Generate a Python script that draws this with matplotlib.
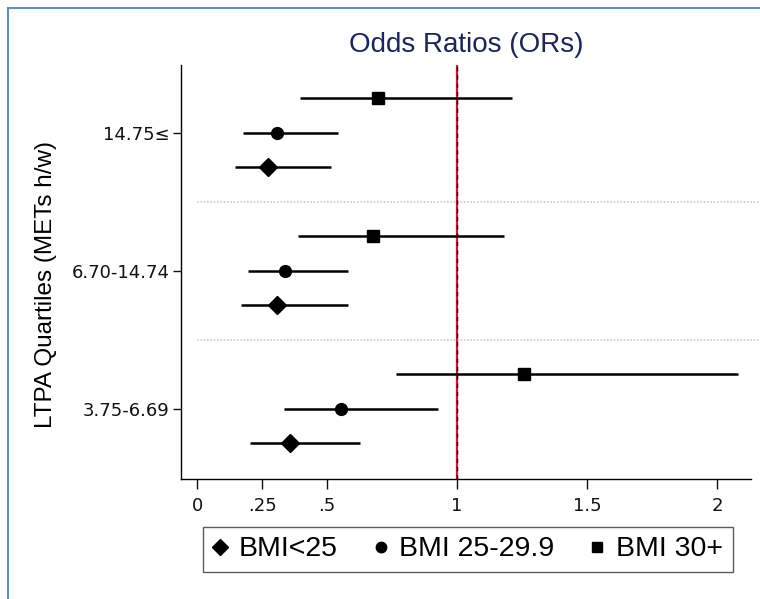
import matplotlib
matplotlib.use("Agg")
import matplotlib.pyplot as plt
from matplotlib.patches import Rectangle
from matplotlib.lines import Line2D

plt.rcParams['font.family'] = ['Liberation Sans', 'DejaVu Sans']

quartiles = ["3.75-6.69", "6.70-14.74", "14.75\u2264"]
series = ["BMI<25", "BMI 25-29.9", "BMI 30+"]
markers = ["D", "o", "s"]
# odds ratios per series, ordered as quartiles
or_vals = {
    "BMI<25":      [0.358, 0.309, 0.273],
    "BMI 25-29.9": [0.554, 0.337, 0.308],
    "BMI 30+":     [1.258, 0.675, 0.696],
}
ci_low = {
    "BMI<25":      [0.204, 0.169, 0.146],
    "BMI 25-29.9": [0.335, 0.197, 0.177],
    "BMI 30+":     [0.765, 0.388, 0.396],
}
ci_high = {
    "BMI<25":      [0.627, 0.579, 0.515],
    "BMI 25-29.9": [0.927, 0.579, 0.542],
    "BMI 30+":     [2.080, 1.181, 1.210],
}
xticks = [0, 0.25, 0.5, 1, 1.5, 2]
xticklabels = ["0", ".25", ".5", "1", "1.5", "2"]

fig = plt.figure(figsize=(7.6, 5.99), dpi=100)
ax = fig.add_axes([181/760, 120/599, 570/760, 414/599])

offsets = [-0.25, 0.0, 0.25]
msizes = [9, 8.5, 8.5]
for s, m, off, ms in zip(series, markers, offsets, msizes):
    for i in range(len(quartiles)):
        y = i + 1 + off
        ax.plot([ci_low[s][i], ci_high[s][i]], [y, y], color='black', lw=1.8, solid_capstyle='butt', zorder=3)
        ax.plot(or_vals[s][i], y, marker=m, color='black', ms=ms, ls='none', zorder=4)

ax.axvline(1, color='#e0103a', lw=1.6, zorder=2)
ax.axvline(1, color='black', lw=1.0, ls=(0, (3, 3)), zorder=2)

for yy in [1.5, 2.5]:
    ax.plot([0, 2.2], [yy, yy], color='#b8cfe0', lw=1.2, ls=(0, (1, 1)), zorder=1, clip_on=False)

ax.set_xlim(-0.062, 2.13)
ax.set_ylim(0.49, 3.49)
ax.set_xticks(xticks)
ax.set_xticklabels(xticklabels, fontsize=13, family=['DejaVu Sans'])
ax.set_yticks([1, 2, 3])
ax.set_yticklabels(quartiles, fontsize=13, family=['DejaVu Sans'])
ax.tick_params(axis='x', length=7, width=1, pad=6, colors='#111111')
ax.tick_params(axis='y', length=6, width=1, pad=2, colors='#111111')
ax.spines['top'].set_visible(False)
ax.spines['right'].set_visible(False)
ax.spines['left'].set_linewidth(1)
ax.spines['bottom'].set_linewidth(1)

fig.text(46/760, 1 - 285/599, "LTPA Quartiles (METs h/w)", rotation=90, ha='center', va='center', fontsize=17.5)
fig.text(466/760, 1 - 45/599, "Odds Ratios (ORs)", ha='center', va='center', fontsize=20, color='#1c2460')

handles = [Line2D([], [], marker=m, color='black', ls='none', ms=ms) for m, ms in zip(markers, [8, 7.5, 7])]
leg = fig.legend(handles, series, loc='center', bbox_to_anchor=(468/760, 1 - 549.5/599), ncol=3,
                 fontsize=20.5, frameon=True, fancybox=False, edgecolor='#333333',
                 handlelength=0.5, handletextpad=0.4, columnspacing=1.25, borderpad=0.35,
                 borderaxespad=0)
leg.get_frame().set_linewidth(1)

fig.add_artist(Rectangle((8/760, -0.01), 760, 1 - 8/599 + 0.01, transform=fig.transFigure,
                         fill=False, edgecolor='#5b8fd0', lw=1.5))

fig.savefig("out.png", dpi=100)
